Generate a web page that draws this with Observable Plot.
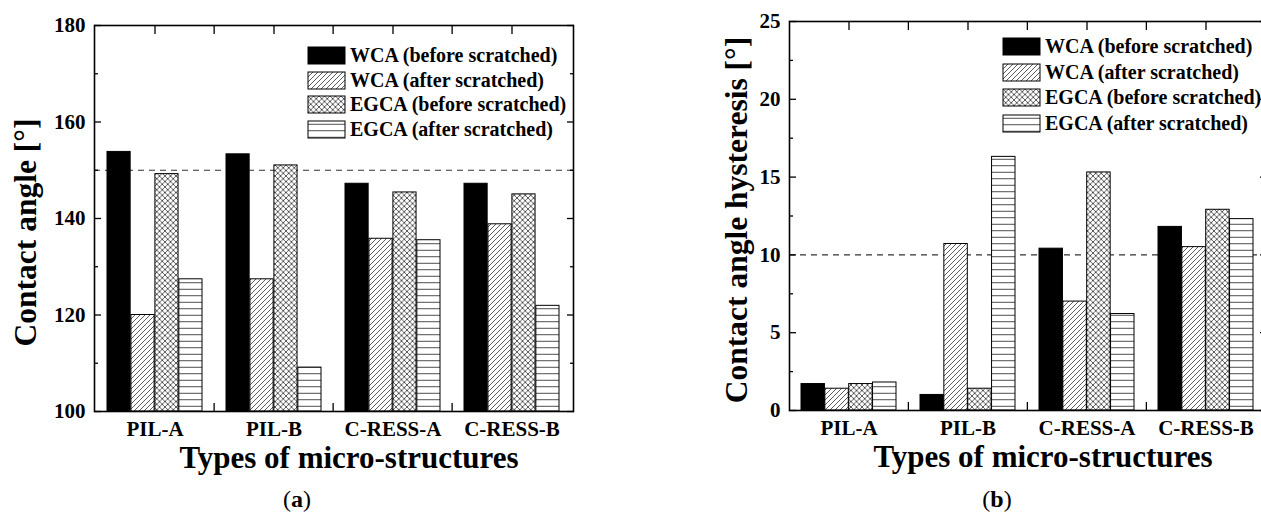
<!DOCTYPE html>
<html>
<head>
<meta charset="utf-8">
<script src="https://cdn.jsdelivr.net/npm/d3@7"></script>
<script src="https://cdn.jsdelivr.net/npm/@observablehq/plot@0.6"></script>
<style>
  html, body { margin: 0; padding: 0; background: #fff; }
  #wrap { position: relative; width: 1261px; height: 518px; overflow: hidden; background: #fff;
          font-family: "Liberation Serif", "Times New Roman", serif; }
  .panel { position: absolute; top: 0; }
  .panel svg { max-width: none !important; }
  .cap { position: absolute; font-size: 24px; line-height: 24px; transform: translateX(-50%);
         font-family: "Liberation Serif", serif; color: #000; white-space: nowrap; }
  .lgbox { position: absolute; }
  .lgbox > div { display: flex !important; flex-direction: column !important; align-items: flex-start !important;
                 flex-wrap: nowrap !important; margin: 0 !important; min-height: 0 !important;
                 font: bold 20px "Liberation Serif", serif !important; color: #000 !important; }
  .lgbox span { display: flex !important; align-items: center !important; margin: 0 !important;
                white-space: nowrap; font: bold 20px "Liberation Serif", serif !important; }
  .lgbox svg { margin-right: 5px !important; overflow: visible !important; flex-shrink: 0; }
  .lgbox svg rect { stroke: #000; stroke-width: 1px; }
</style>
</head>
<body>
<svg width="0" height="0" style="position:absolute">
  <defs>
    <pattern id="hDiag" patternUnits="userSpaceOnUse" width="5" height="5">
      <rect width="5" height="5" fill="#fff"/>
      <path d="M-1,1 L1,-1 M0,5 L5,0 M4,6 L6,4" stroke="#333" stroke-width="0.8"/>
    </pattern>
    <pattern id="hCross" patternUnits="userSpaceOnUse" width="5.5" height="5.5">
      <rect width="5.5" height="5.5" fill="#fff"/>
      <path d="M-1,1 L1,-1 M0,5.5 L5.5,0 M4.5,6.5 L6.5,4.5 M-1,4.5 L1,6.5 M0,0 L5.5,5.5 M4.5,-1 L6.5,1" stroke="#333" stroke-width="0.8"/>
    </pattern>
    <pattern id="hHoriz" patternUnits="userSpaceOnUse" width="6" height="6.5">
      <rect width="6" height="6.5" fill="#fff"/>
      <path d="M0,3.25 H6" stroke="#333" stroke-width="0.9"/>
    </pattern>
  </defs>
</svg>
<div id="wrap"></div>
<script>
// ---- data ----
const categories = ["PIL-A", "PIL-B", "C-RESS-A", "C-RESS-B"];
const series = ["WCA (before scratched)", "WCA (after scratched)", "EGCA (before scratched)", "EGCA (after scratched)"];
const seriesFills = ["#000", "url(#hDiag)", "url(#hCross)", "url(#hHoriz)"];

// (a) contact angle [°]
const caWcaBefore  = [153.8, 153.3, 147.2, 147.2];
const caWcaAfter   = [120.0, 127.4, 135.8, 138.8];
const caEgcaBefore = [149.2, 151.0, 145.4, 145.0];
const caEgcaAfter  = [127.4, 109.1, 135.5, 121.9];
const caTicks = [100, 120, 140, 160, 180];
const caMinorTicks = [110, 130, 150, 170];
const caThreshold = 150;

// (b) contact angle hysteresis [°]
const cahWcaBefore  = [1.7, 1.0, 10.4, 11.8];
const cahWcaAfter   = [1.4, 10.7, 7.0, 10.5];
const cahEgcaBefore = [1.7, 1.4, 15.3, 12.9];
const cahEgcaAfter  = [1.8, 16.3, 6.2, 12.3];
const cahTicks = [0, 5, 10, 15, 20, 25];
const cahMinorTicks = [2.5, 7.5, 12.5, 17.5, 22.5];
const cahThreshold = 10;

const xTitle = "Types of micro-structures";

function buildRows(seriesValues) {
  const rows = [];
  categories.forEach((c, i) => series.forEach((s, j) => rows.push({category: c, series: s, value: seriesValues[j][i]})));
  return rows;
}

function makePanel(cfg) {
  const rows = buildRows(cfg.values);
  const frameW = cfg.width - cfg.ml - cfg.mr;
  const step = frameW / categories.length;
  const sub = step * 0.8 / series.length;
  const font = "Liberation Serif";
  const marks = [
    Plot.ruleY([cfg.threshold], {stroke: "#333", strokeWidth: 1.2, strokeDasharray: "6,5"}),
    ...series.map((s, j) => Plot.barY(rows.filter(d => d.series === s), {
      x: "category", y1: cfg.domain[0], y2: "value",
      fill: seriesFills[j], stroke: "#000", strokeWidth: 1,
      insetLeft: j * sub, insetRight: (series.length - 1 - j) * sub
    })),
    Plot.frame({stroke: "#000", strokeWidth: 1.6}),
    // y axis labels and inward ticks
    Plot.axisY(cfg.ticks, {anchor: "left", tickSize: 0, tickPadding: 9, label: null, fontSize: 21, fontWeight: "bold", fontFamily: font}),
    Plot.axisY(cfg.ticks, {anchor: "left", tickSize: -7, tickFormat: () => "", label: null, strokeWidth: 1.3}),
    Plot.axisY(cfg.minor, {anchor: "left", tickSize: -4, tickFormat: () => "", label: null, strokeWidth: 1.3}),
    Plot.axisY(cfg.ticks, {anchor: "right", tickSize: -7, tickFormat: () => "", label: null, strokeWidth: 1.3}),
    Plot.axisY(cfg.minor, {anchor: "right", tickSize: -4, tickFormat: () => "", label: null, strokeWidth: 1.3}),
    // x axis labels and inward ticks (centres and boundaries)
    Plot.axisX(categories, {anchor: "bottom", tickSize: 0, tickPadding: 10, label: null, fontSize: 21, fontWeight: "bold", fontFamily: font}),
    Plot.axisX(categories.slice(1), {anchor: "bottom", tickSize: -8, tickFormat: () => "", label: null, dx: -step / 2, strokeWidth: 1.3}),
    Plot.axisX(categories, {anchor: "top", tickSize: -8, tickFormat: () => "", label: null, strokeWidth: 1.3}),
    Plot.axisX(categories.slice(1), {anchor: "top", tickSize: -8, tickFormat: () => "", label: null, dx: -step / 2, strokeWidth: 1.3}),
    // axis titles
    Plot.text([cfg.yTitle], {text: d => d, frameAnchor: "left", textAnchor: "middle", lineAnchor: "middle", rotate: -90, dx: cfg.yTitleDx, dy: cfg.yTitleDy, fontSize: 31.5, fontWeight: "bold", fontFamily: font, fill: "#000"}),
    Plot.text([xTitle], {text: d => d, frameAnchor: "bottom", textAnchor: "middle", dx: 15, dy: 56, fontSize: 31, fontWeight: "bold", fontFamily: font, fill: "#000"})
  ];
  const svg = Plot.plot({
    width: cfg.width, height: 518,
    marginTop: cfg.mt, marginBottom: cfg.mb, marginLeft: cfg.ml, marginRight: cfg.mr,
    x: {domain: categories, paddingInner: 0.2, paddingOuter: 0.1, axis: null},
    y: {domain: cfg.domain, axis: null},
    style: {fontFamily: font, color: "#000", background: "transparent", overflow: "visible", maxWidth: "none"},
    marks
  });
  const holder = document.createElement("div");
  holder.className = "panel";
  holder.style.left = cfg.left + "px";
  holder.style.width = cfg.width + "px";
  holder.style.height = "518px";
  holder.appendChild(svg);
  document.getElementById("wrap").appendChild(holder);

  // legend (Plot swatch legend, placed inside the frame)
  const lg = Plot.legend({
    color: {type: "ordinal", domain: series, range: seriesFills},
    swatchWidth: 37, swatchHeight: 17
  });
  const lgBox = document.createElement("div");
  lgBox.className = "lgbox";
  lgBox.style.left = cfg.legendLeft + "px";
  lgBox.style.top = cfg.legendTop + "px";
  lgBox.appendChild(lg);
  lgBox.querySelectorAll("span").forEach(s => { s.style.height = cfg.legendRow + "px"; });
  document.getElementById("wrap").appendChild(lgBox);

  // caption
  const cap = document.createElement("div");
  cap.className = "cap";
  cap.style.left = cfg.capX + "px";
  cap.style.top = "487px";
  cap.innerHTML = "(<b>" + cfg.capLetter + "</b>)";
  document.getElementById("wrap").appendChild(cap);
}

makePanel({
  left: 0, width: 620, ml: 94, mr: 47, mt: 25, mb: 107,
  values: [caWcaBefore, caWcaAfter, caEgcaBefore, caEgcaAfter],
  domain: [100, 180], ticks: caTicks, minor: caMinorTicks, threshold: caThreshold,
  yTitle: "Contact angle [°]", yTitleDx: -69, yTitleDy: 14,
  legendLeft: 308, legendTop: 43, legendRow: 24.7,
  capX: 297, capLetter: "a"
});

makePanel({
  left: 620, width: 700, ml: 169, mr: 54, mt: 21, mb: 108,
  values: [cahWcaBefore, cahWcaAfter, cahEgcaBefore, cahEgcaAfter],
  domain: [0, 25], ticks: cahTicks, minor: cahMinorTicks, threshold: cahThreshold,
  yTitle: "Contact angle hysteresis [°]", yTitleDx: -53, yTitleDy: 4,
  legendLeft: 1003, legendTop: 34, legendRow: 25.5,
  capX: 997, capLetter: "b"
});
</script>
</body>
</html>
